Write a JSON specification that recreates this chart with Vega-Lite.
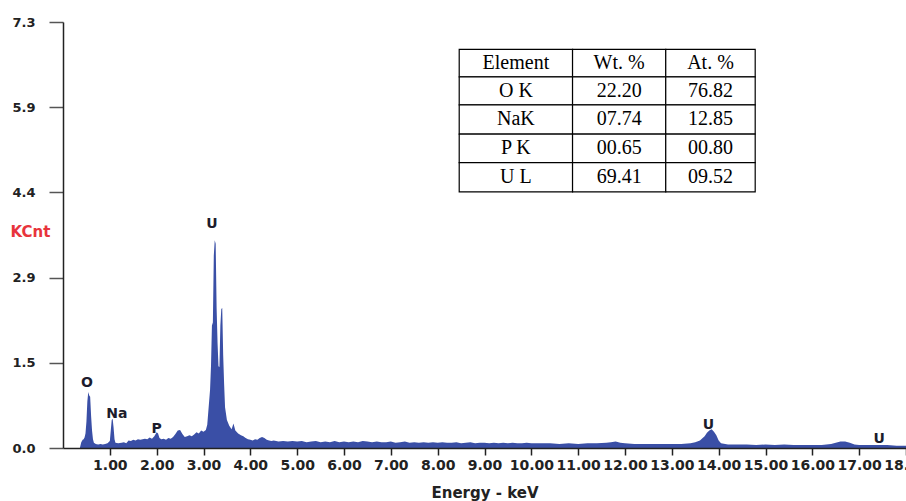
{
  "$schema": "https://vega.github.io/schema/vega-lite/v6.json",
  "autosize": {"type": "none"},
  "padding": {"left": 63, "top": 22, "right": 0, "bottom": 53},
  "width": 843,
  "height": 426,
  "background": "white",
  "config": {"view": {"stroke": null}},
  "datasets": {
    "spectrum": [
      {"energy": 0.36, "kcnt": 0}, {"energy": 0.39, "kcnt": 0.1}, {"energy": 0.42, "kcnt": 0.14}, {"energy": 0.44, "kcnt": 0.15},
      {"energy": 0.46, "kcnt": 0.18}, {"energy": 0.48, "kcnt": 0.25}, {"energy": 0.5, "kcnt": 0.45}, {"energy": 0.52, "kcnt": 0.8},
      {"energy": 0.54, "kcnt": 0.96}, {"energy": 0.56, "kcnt": 0.9}, {"energy": 0.58, "kcnt": 0.88}, {"energy": 0.6, "kcnt": 0.55},
      {"energy": 0.62, "kcnt": 0.3}, {"energy": 0.64, "kcnt": 0.15}, {"energy": 0.66, "kcnt": 0.09}, {"energy": 0.7, "kcnt": 0.07},
      {"energy": 0.75, "kcnt": 0.06}, {"energy": 0.8, "kcnt": 0.07}, {"energy": 0.85, "kcnt": 0.06}, {"energy": 0.9, "kcnt": 0.07},
      {"energy": 0.95, "kcnt": 0.08}, {"energy": 1.0, "kcnt": 0.12}, {"energy": 1.02, "kcnt": 0.3}, {"energy": 1.04, "kcnt": 0.48},
      {"energy": 1.06, "kcnt": 0.5}, {"energy": 1.08, "kcnt": 0.35}, {"energy": 1.1, "kcnt": 0.15}, {"energy": 1.12, "kcnt": 0.09},
      {"energy": 1.18, "kcnt": 0.08}, {"energy": 1.25, "kcnt": 0.09}, {"energy": 1.3, "kcnt": 0.1}, {"energy": 1.35, "kcnt": 0.08},
      {"energy": 1.4, "kcnt": 0.13}, {"energy": 1.45, "kcnt": 0.12}, {"energy": 1.5, "kcnt": 0.14}, {"energy": 1.55, "kcnt": 0.13},
      {"energy": 1.6, "kcnt": 0.15}, {"energy": 1.65, "kcnt": 0.14}, {"energy": 1.7, "kcnt": 0.15}, {"energy": 1.75, "kcnt": 0.16},
      {"energy": 1.8, "kcnt": 0.15}, {"energy": 1.85, "kcnt": 0.18}, {"energy": 1.9, "kcnt": 0.16}, {"energy": 1.95, "kcnt": 0.2},
      {"energy": 2.0, "kcnt": 0.27}, {"energy": 2.03, "kcnt": 0.25}, {"energy": 2.06, "kcnt": 0.17}, {"energy": 2.1, "kcnt": 0.15},
      {"energy": 2.15, "kcnt": 0.16}, {"energy": 2.2, "kcnt": 0.14}, {"energy": 2.25, "kcnt": 0.17}, {"energy": 2.3, "kcnt": 0.16},
      {"energy": 2.35, "kcnt": 0.19}, {"energy": 2.4, "kcnt": 0.24}, {"energy": 2.45, "kcnt": 0.3}, {"energy": 2.5, "kcnt": 0.31},
      {"energy": 2.55, "kcnt": 0.24}, {"energy": 2.6, "kcnt": 0.19}, {"energy": 2.65, "kcnt": 0.2}, {"energy": 2.7, "kcnt": 0.22},
      {"energy": 2.75, "kcnt": 0.2}, {"energy": 2.8, "kcnt": 0.23}, {"energy": 2.85, "kcnt": 0.27}, {"energy": 2.9, "kcnt": 0.25},
      {"energy": 2.95, "kcnt": 0.3}, {"energy": 3.0, "kcnt": 0.28}, {"energy": 3.05, "kcnt": 0.31}, {"energy": 3.08, "kcnt": 0.4},
      {"energy": 3.11, "kcnt": 0.7}, {"energy": 3.14, "kcnt": 1.0}, {"energy": 3.16, "kcnt": 1.4}, {"energy": 3.18, "kcnt": 2.1},
      {"energy": 3.2, "kcnt": 2.15}, {"energy": 3.22, "kcnt": 3.3}, {"energy": 3.24, "kcnt": 3.56}, {"energy": 3.26, "kcnt": 3.5},
      {"energy": 3.28, "kcnt": 2.4}, {"energy": 3.3, "kcnt": 1.8}, {"energy": 3.32, "kcnt": 1.4}, {"energy": 3.34, "kcnt": 1.39},
      {"energy": 3.36, "kcnt": 2.1}, {"energy": 3.38, "kcnt": 2.38}, {"energy": 3.4, "kcnt": 2.4}, {"energy": 3.42, "kcnt": 1.6},
      {"energy": 3.44, "kcnt": 1.1}, {"energy": 3.46, "kcnt": 0.7}, {"energy": 3.5, "kcnt": 0.48}, {"energy": 3.55, "kcnt": 0.38},
      {"energy": 3.6, "kcnt": 0.32}, {"energy": 3.64, "kcnt": 0.42}, {"energy": 3.68, "kcnt": 0.3}, {"energy": 3.74, "kcnt": 0.25},
      {"energy": 3.8, "kcnt": 0.22}, {"energy": 3.85, "kcnt": 0.2}, {"energy": 3.9, "kcnt": 0.17}, {"energy": 3.95, "kcnt": 0.15},
      {"energy": 4.0, "kcnt": 0.14}, {"energy": 4.05, "kcnt": 0.13}, {"energy": 4.1, "kcnt": 0.15}, {"energy": 4.15, "kcnt": 0.14},
      {"energy": 4.2, "kcnt": 0.17}, {"energy": 4.25, "kcnt": 0.19}, {"energy": 4.3, "kcnt": 0.17}, {"energy": 4.35, "kcnt": 0.14},
      {"energy": 4.4, "kcnt": 0.13}, {"energy": 4.45, "kcnt": 0.12}, {"energy": 4.5, "kcnt": 0.13}, {"energy": 4.6, "kcnt": 0.11},
      {"energy": 4.7, "kcnt": 0.12}, {"energy": 4.8, "kcnt": 0.11}, {"energy": 4.9, "kcnt": 0.12}, {"energy": 5.0, "kcnt": 0.11},
      {"energy": 5.1, "kcnt": 0.12}, {"energy": 5.2, "kcnt": 0.1}, {"energy": 5.3, "kcnt": 0.11}, {"energy": 5.4, "kcnt": 0.12},
      {"energy": 5.5, "kcnt": 0.1}, {"energy": 5.6, "kcnt": 0.11}, {"energy": 5.7, "kcnt": 0.1}, {"energy": 5.8, "kcnt": 0.12},
      {"energy": 5.9, "kcnt": 0.1}, {"energy": 6.0, "kcnt": 0.11}, {"energy": 6.1, "kcnt": 0.1}, {"energy": 6.2, "kcnt": 0.11},
      {"energy": 6.3, "kcnt": 0.1}, {"energy": 6.4, "kcnt": 0.12}, {"energy": 6.5, "kcnt": 0.11}, {"energy": 6.6, "kcnt": 0.1},
      {"energy": 6.7, "kcnt": 0.11}, {"energy": 6.8, "kcnt": 0.1}, {"energy": 6.9, "kcnt": 0.1}, {"energy": 7.0, "kcnt": 0.11},
      {"energy": 7.1, "kcnt": 0.09}, {"energy": 7.2, "kcnt": 0.1}, {"energy": 7.3, "kcnt": 0.11}, {"energy": 7.4, "kcnt": 0.09},
      {"energy": 7.5, "kcnt": 0.1}, {"energy": 7.6, "kcnt": 0.09}, {"energy": 7.7, "kcnt": 0.1}, {"energy": 7.8, "kcnt": 0.09},
      {"energy": 7.9, "kcnt": 0.1}, {"energy": 8.0, "kcnt": 0.09}, {"energy": 8.1, "kcnt": 0.1}, {"energy": 8.2, "kcnt": 0.09},
      {"energy": 8.3, "kcnt": 0.09}, {"energy": 8.4, "kcnt": 0.1}, {"energy": 8.5, "kcnt": 0.08}, {"energy": 8.6, "kcnt": 0.09},
      {"energy": 8.7, "kcnt": 0.1}, {"energy": 8.8, "kcnt": 0.08}, {"energy": 8.9, "kcnt": 0.09}, {"energy": 9.0, "kcnt": 0.09},
      {"energy": 9.1, "kcnt": 0.08}, {"energy": 9.2, "kcnt": 0.09}, {"energy": 9.3, "kcnt": 0.08}, {"energy": 9.4, "kcnt": 0.09},
      {"energy": 9.5, "kcnt": 0.08}, {"energy": 9.6, "kcnt": 0.09}, {"energy": 9.7, "kcnt": 0.08}, {"energy": 9.8, "kcnt": 0.08},
      {"energy": 9.9, "kcnt": 0.09}, {"energy": 10.0, "kcnt": 0.08}, {"energy": 10.2, "kcnt": 0.08}, {"energy": 10.4, "kcnt": 0.08},
      {"energy": 10.6, "kcnt": 0.07}, {"energy": 10.8, "kcnt": 0.08}, {"energy": 11.0, "kcnt": 0.07}, {"energy": 11.2, "kcnt": 0.08},
      {"energy": 11.4, "kcnt": 0.08}, {"energy": 11.6, "kcnt": 0.09}, {"energy": 11.7, "kcnt": 0.1}, {"energy": 11.8, "kcnt": 0.11},
      {"energy": 11.9, "kcnt": 0.09}, {"energy": 12.0, "kcnt": 0.08}, {"energy": 12.2, "kcnt": 0.07}, {"energy": 12.4, "kcnt": 0.07},
      {"energy": 12.6, "kcnt": 0.07}, {"energy": 12.8, "kcnt": 0.07}, {"energy": 13.0, "kcnt": 0.07}, {"energy": 13.2, "kcnt": 0.07},
      {"energy": 13.4, "kcnt": 0.08}, {"energy": 13.5, "kcnt": 0.1}, {"energy": 13.6, "kcnt": 0.13}, {"energy": 13.7, "kcnt": 0.2},
      {"energy": 13.75, "kcnt": 0.26}, {"energy": 13.8, "kcnt": 0.3}, {"energy": 13.85, "kcnt": 0.32}, {"energy": 13.9, "kcnt": 0.28},
      {"energy": 13.95, "kcnt": 0.22}, {"energy": 14.0, "kcnt": 0.13}, {"energy": 14.05, "kcnt": 0.08}, {"energy": 14.2, "kcnt": 0.06},
      {"energy": 14.4, "kcnt": 0.06}, {"energy": 14.6, "kcnt": 0.06}, {"energy": 14.8, "kcnt": 0.05}, {"energy": 15.0, "kcnt": 0.06},
      {"energy": 15.2, "kcnt": 0.05}, {"energy": 15.4, "kcnt": 0.06}, {"energy": 15.6, "kcnt": 0.05}, {"energy": 15.8, "kcnt": 0.05},
      {"energy": 16.0, "kcnt": 0.05}, {"energy": 16.2, "kcnt": 0.05}, {"energy": 16.4, "kcnt": 0.07}, {"energy": 16.5, "kcnt": 0.09},
      {"energy": 16.6, "kcnt": 0.11}, {"energy": 16.7, "kcnt": 0.11}, {"energy": 16.8, "kcnt": 0.09}, {"energy": 16.9, "kcnt": 0.06},
      {"energy": 17.0, "kcnt": 0.05}, {"energy": 17.2, "kcnt": 0.05}, {"energy": 17.4, "kcnt": 0.05}, {"energy": 17.6, "kcnt": 0.05},
      {"energy": 17.8, "kcnt": 0.04}, {"energy": 18.0, "kcnt": 0.04}
    ],
    "peaks": [
      {"energy": 0.51, "kcnt": 1.12, "label": "O"},
      {"energy": 1.15, "kcnt": 0.58, "label": "Na"},
      {"energy": 2.0, "kcnt": 0.32, "label": "P"},
      {"energy": 3.18, "kcnt": 3.84, "label": "U"},
      {"energy": 13.78, "kcnt": 0.39, "label": "U"},
      {"energy": 17.43, "kcnt": 0.16, "label": "U"}
    ],
    "cells": [
      {"e1": 8.46, "e2": 10.88, "c1": 6.83, "c2": 6.36, "ec": 9.67, "cc": 6.595, "text": "Element"},
      {"e1": 10.88, "e2": 12.87, "c1": 6.83, "c2": 6.36, "ec": 11.875, "cc": 6.595, "text": "Wt. %"},
      {"e1": 12.87, "e2": 14.78, "c1": 6.83, "c2": 6.36, "ec": 13.825, "cc": 6.595, "text": "At. %"},
      {"e1": 8.46, "e2": 10.88, "c1": 6.36, "c2": 5.88, "ec": 9.67, "cc": 6.12, "text": "O K"},
      {"e1": 10.88, "e2": 12.87, "c1": 6.36, "c2": 5.88, "ec": 11.875, "cc": 6.12, "text": "22.20"},
      {"e1": 12.87, "e2": 14.78, "c1": 6.36, "c2": 5.88, "ec": 13.825, "cc": 6.12, "text": "76.82"},
      {"e1": 8.46, "e2": 10.88, "c1": 5.88, "c2": 5.38, "ec": 9.67, "cc": 5.63, "text": "NaK"},
      {"e1": 10.88, "e2": 12.87, "c1": 5.88, "c2": 5.38, "ec": 11.875, "cc": 5.63, "text": "07.74"},
      {"e1": 12.87, "e2": 14.78, "c1": 5.88, "c2": 5.38, "ec": 13.825, "cc": 5.63, "text": "12.85"},
      {"e1": 8.46, "e2": 10.88, "c1": 5.38, "c2": 4.89, "ec": 9.67, "cc": 5.135, "text": "P K"},
      {"e1": 10.88, "e2": 12.87, "c1": 5.38, "c2": 4.89, "ec": 11.875, "cc": 5.135, "text": "00.65"},
      {"e1": 12.87, "e2": 14.78, "c1": 5.38, "c2": 4.89, "ec": 13.825, "cc": 5.135, "text": "00.80"},
      {"e1": 8.46, "e2": 10.88, "c1": 4.89, "c2": 4.39, "ec": 9.67, "cc": 4.64, "text": "U L"},
      {"e1": 10.88, "e2": 12.87, "c1": 4.89, "c2": 4.39, "ec": 11.875, "cc": 4.64, "text": "69.41"},
      {"e1": 12.87, "e2": 14.78, "c1": 4.89, "c2": 4.39, "ec": 13.825, "cc": 4.64, "text": "09.52"}
    ]
  },
  "layer": [
    {
      "data": {"name": "spectrum"},
      "mark": {"type": "area", "color": "#3a4fa6", "interpolate": "linear", "clip": true},
      "encoding": {
        "x": {
          "field": "energy", "type": "quantitative",
          "scale": {"domain": [0, 18], "nice": false, "zero": false},
          "axis": {
            "title": "Energy - keV",
            "values": [1, 2, 3, 4, 5, 6, 7, 8, 9, 10, 11, 12, 13, 14, 15, 16, 17, 18],
            "format": ".2f",
            "grid": false,
            "domainColor": "#222", "domainWidth": 1.5,
            "tickColor": "#222", "tickSize": 7, "tickWidth": 1.5,
            "labelFont": "DejaVu Sans", "labelFontWeight": "bold", "labelFontSize": 14, "labelColor": "#222",
            "labelPadding": 3, "labelOverlap": false, "labelFlush": false,
            "titleFont": "DejaVu Sans", "titleFontWeight": "bold", "titleFontSize": 15, "titleColor": "#222",
            "titlePadding": 13,
            "zindex": 1
          }
        },
        "y": {
          "field": "kcnt", "type": "quantitative",
          "scale": {"domain": [0, 7.3], "nice": false},
          "axis": {
            "title": "KCnt",
            "values": [0, 1.46, 2.92, 4.38, 5.84, 7.3],
            "labelExpr": "['0.0','1.5','2.9','4.4','5.9','7.3'][round(datum.value / 1.46)]",
            "grid": false,
            "domainColor": "#222", "domainWidth": 1.5,
            "tickColor": "#555", "tickSize": 14, "tickWidth": 1.5,
            "labelFont": "DejaVu Sans", "labelFontWeight": "bold", "labelFontSize": 13, "labelColor": "#222",
            "labelPadding": 14,
            "titleFont": "DejaVu Sans", "titleFontWeight": "bold", "titleFontSize": 15, "titleColor": "#e8343c",
            "titleAngle": 0, "titleAlign": "left", "titleBaseline": "middle",
            "titleX": -53, "titleY": 209,
            "zindex": 1
          }
        }
      }
    },
    {
      "data": {"name": "peaks"},
      "mark": {"type": "text", "font": "DejaVu Sans", "fontWeight": "bold", "fontSize": 14, "color": "#1c1c2c", "baseline": "middle", "align": "center"},
      "encoding": {
        "x": {"field": "energy", "type": "quantitative"},
        "y": {"field": "kcnt", "type": "quantitative"},
        "text": {"field": "label"}
      }
    },
    {
      "data": {"name": "cells"},
      "mark": {"type": "rect", "fill": "white", "stroke": "black", "strokeWidth": 1.2},
      "encoding": {
        "x": {"field": "e1", "type": "quantitative"},
        "x2": {"field": "e2"},
        "y": {"field": "c1", "type": "quantitative"},
        "y2": {"field": "c2"}
      }
    },
    {
      "data": {"name": "cells"},
      "mark": {"type": "text", "font": "Liberation Serif", "fontSize": 20, "color": "black", "baseline": "middle", "align": "center"},
      "encoding": {
        "x": {"field": "ec", "type": "quantitative"},
        "y": {"field": "cc", "type": "quantitative"},
        "text": {"field": "text"}
      }
    }
  ]
}
